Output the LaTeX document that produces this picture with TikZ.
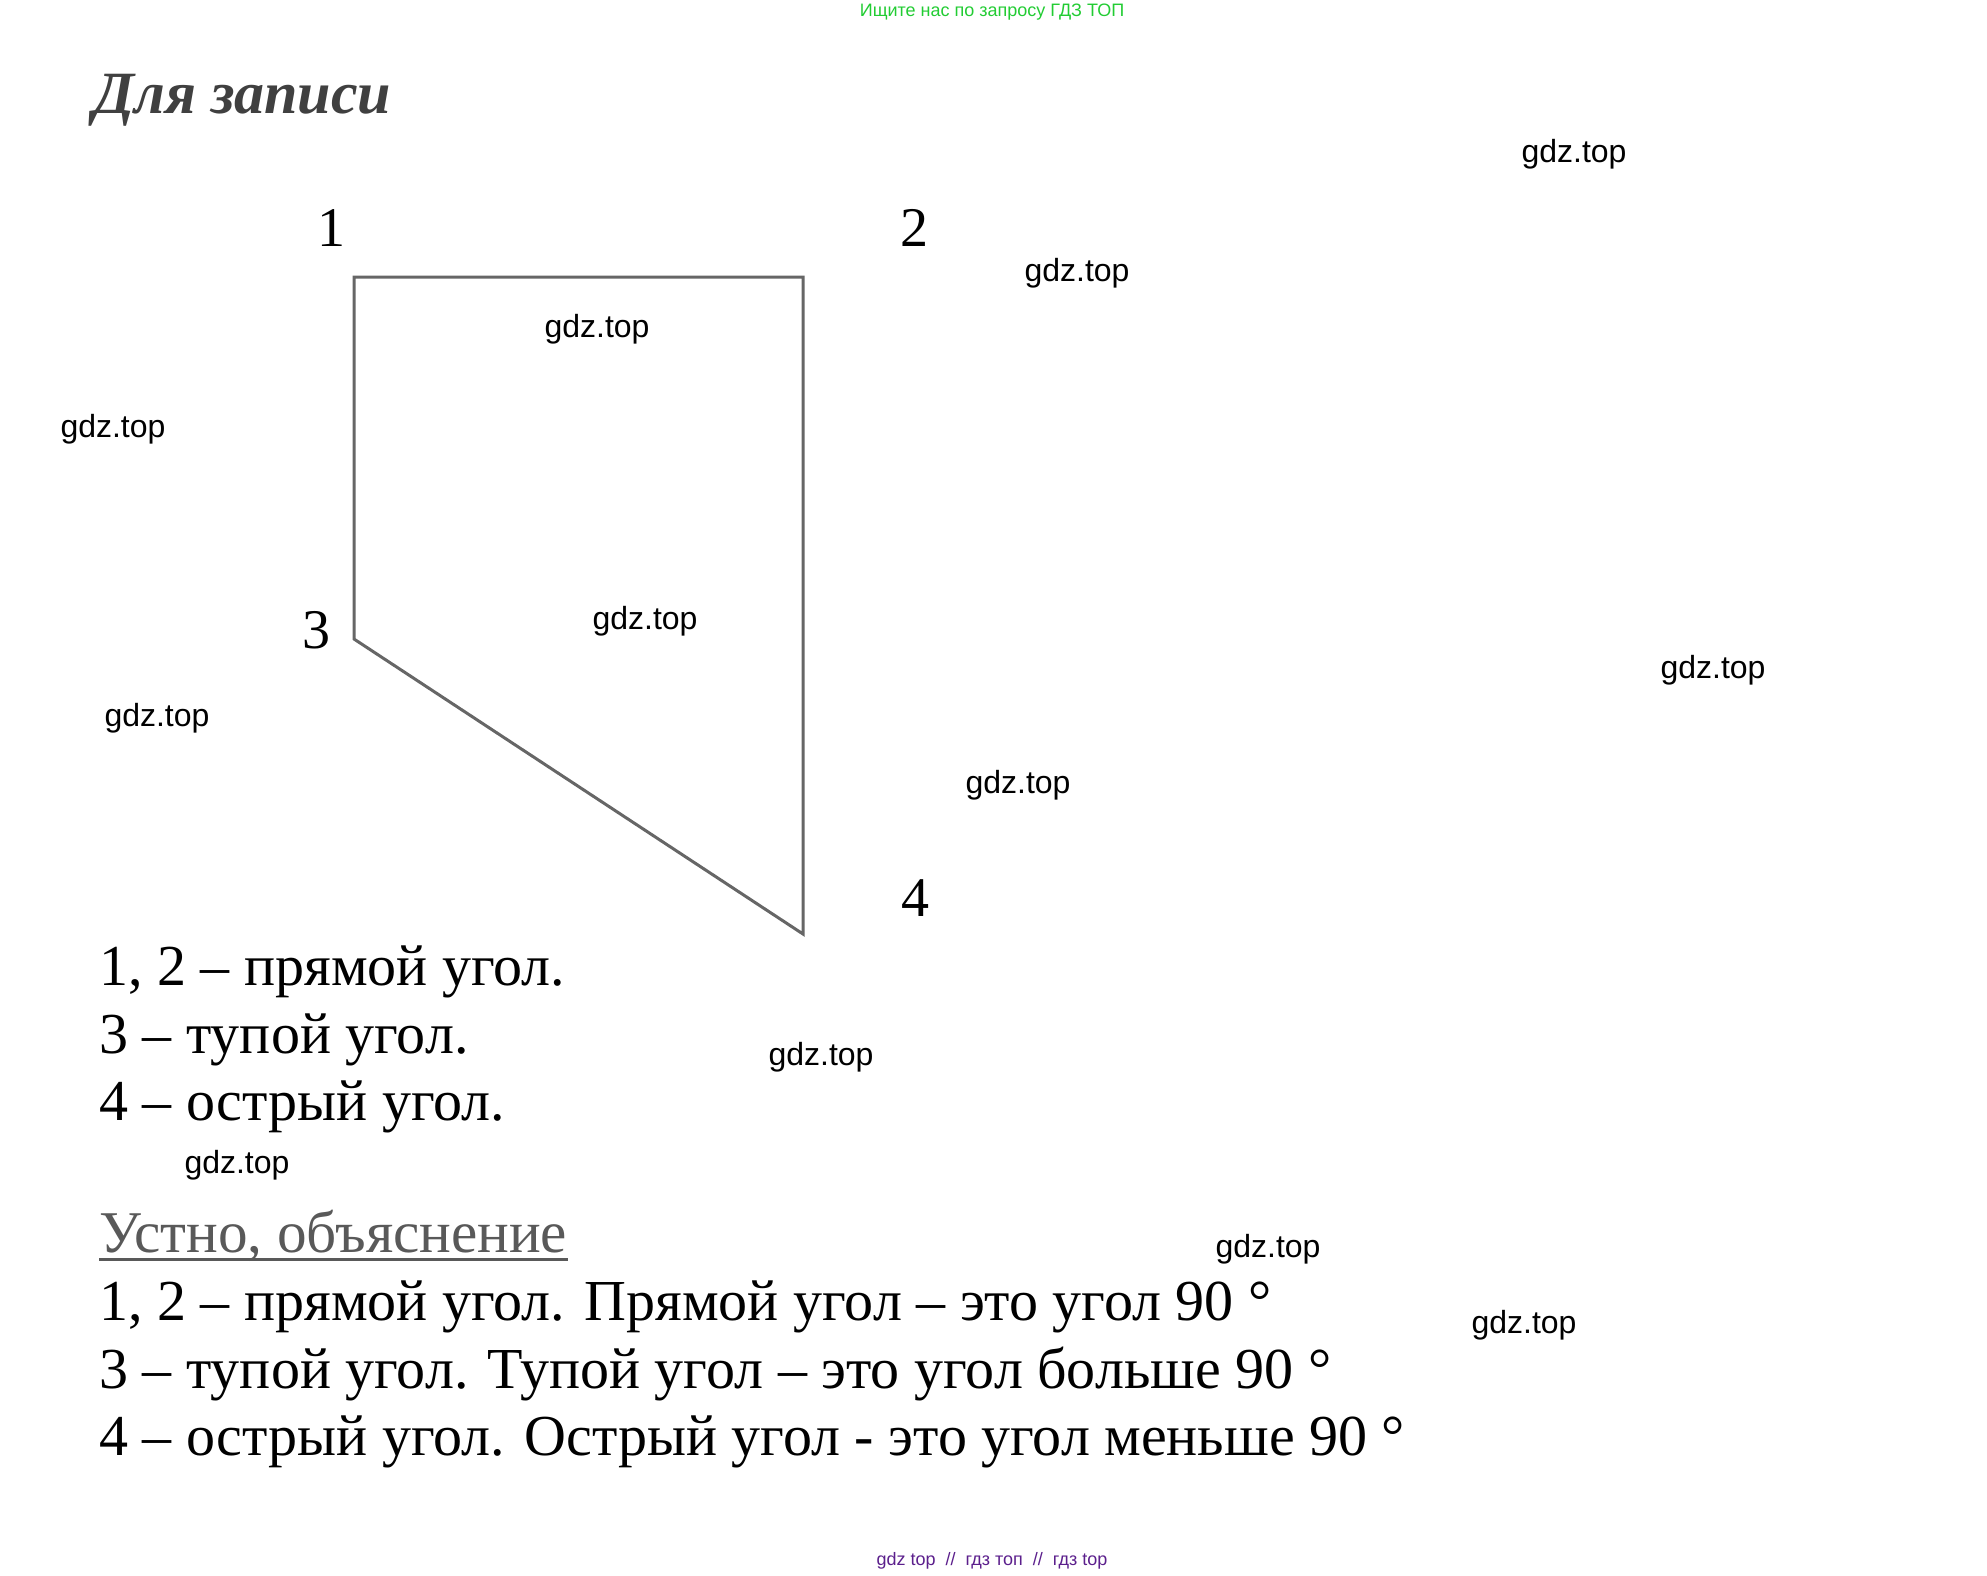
\documentclass[tikz,border=0pt]{standalone}
\usepackage{fontspec}
\setmainfont{Liberation Serif}
\newfontfamily\wmfont{Liberation Sans}
\usetikzlibrary{positioning}
\definecolor{edgegray}{HTML}{666666}
\definecolor{titlegray}{HTML}{404040}
\definecolor{oralgray}{HTML}{595959}
\definecolor{adgreen}{HTML}{22CC33}
\definecolor{adpurple}{HTML}{5B1F8C}
\tikzset{
  side/.style={edgegray,line width=1.5pt,line join=miter},
  vlabel/.style={inner sep=0pt,font=\fontsize{28}{30}\selectfont},
  answer/.style={anchor=base west,inner sep=0pt,font=\fontsize{29}{31}\selectfont},
  wmark/.style={inner sep=0pt,font=\wmfont\fontsize{16}{18}\selectfont},
  adline/.style={inner sep=0pt,font=\wmfont\fontsize{9}{10}\selectfont}
}
\begin{document}
\begin{tikzpicture}[x=0.5pt,y=-0.5pt]
  \useasboundingbox (0,0) rectangle (1987,1575);
  % header and footer
  \node[adline,text=adgreen] (ad) at (992,12) {Ищите нас по запросу ГДЗ ТОП};
  \node[adline,text=adpurple] (foot) at (992,1561) {gdz top \ // \ гдз топ \ // \ гдз top};
  \node[anchor=base west,inner sep=0pt,text=titlegray,
        font=\bfseries\itshape\fontsize{30}{32}\selectfont] (title) at (93,113) {Для записи};
  % the figure
  \coordinate (c1) at (354,277);
  \coordinate (c2) at (803,277);
  \coordinate (c3) at (354,639);
  \coordinate (c4) at (803,934);
  \draw[side] (c1) -- (c2) -- (c4) -- (c3) -- cycle;
  \node[vlabel] (n1) at (331,228) {1};
  \node[vlabel] (n2) at (914,228) {2};
  \node[vlabel] (n3) at (316,630) {3};
  \node[vlabel] (n4) at (915,898) {4};
  % answers
  \node[answer] (l1) at (99,985) {1, 2 – прямой угол.};
  \node[answer] (l2) at (99,1053) {3 – тупой угол.};
  \node[answer] (l3) at (99,1120) {4 – острый угол.};
  \node[answer,text=oralgray,font=\fontsize{29.6}{31}\selectfont] (e0) at (99,1252) {Устно, объяснение};
  \draw[oralgray,line width=1.5pt] ([yshift=-3.5pt]e0.base west) -- ([yshift=-3.5pt]e0.base east);
  \node[answer] (e1) at (99,1320) {1, 2 – прямой угол. Прямой угол – это угол 90 °};
  \node[answer] (e2) at (99,1388) {3 – тупой угол. Тупой угол – это угол больше 90 °};
  \node[answer] (e3) at (99,1455) {4 – острый угол. Острый угол - это угол меньше 90 °};
  % watermarks
  \foreach \wx/\wy [count=\i] in {1574/154,1077/273,597/329,113/429,645/621,1713/670,
      157/718,1018/785,821/1057,237/1165,1268/1249,1524/1325}
    \node[wmark] (wm\i) at (\wx,\wy) {gdz.top};
\end{tikzpicture}
\end{document}
